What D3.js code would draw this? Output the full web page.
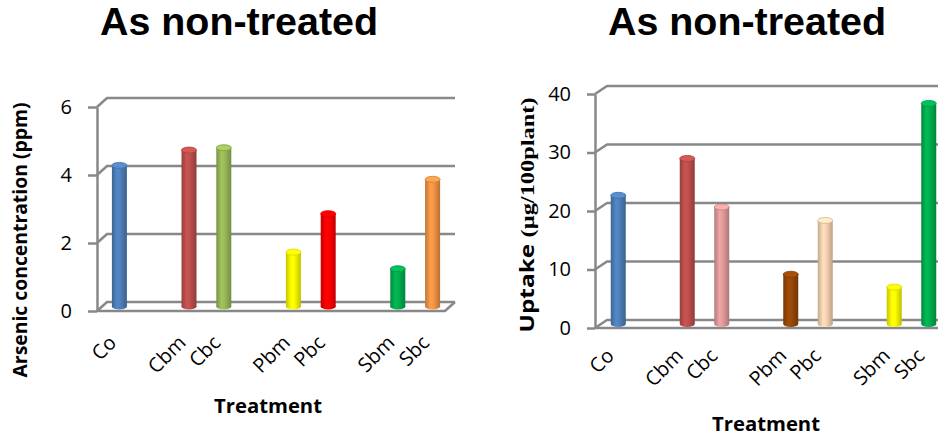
<!DOCTYPE html>
<html>
<head>
  <meta charset="utf-8">
  <style>
    body, html { margin: 0; padding: 0; background: #fff; }
    #chart { display: block; }
  </style>
</head>
<body>
  <svg id="chart" width="938" height="439"></svg>

  <script src="https://d3js.org/d3.v7.min.js"></script>
  <script>
    // treatment groups (a gap is left between groups)
    const treatmentGroups = [["Co"], ["Cbm", "Cbc"], ["Pbm", "Pbc"], ["Sbm", "Sbc"]]
    const treatments = ["Co", "Cbm", "Cbc", "Pbm", "Pbc", "Sbm", "Sbc"]

    // left: arsenic concentration (ppm)
    const arsenicValues = [4.15, 4.6, 4.67, 1.6, 2.73, 1.11, 3.74]
    const arsenicColors = ["#4f81bd", "#c0504d", "#9bbb59", "#ffff00", "#ff0000", "#00b050", "#f79646"]
    const arsenicTicks = [0, 2, 4, 6]

    // right: uptake (µg/100plant)
    const uptakeValues = [22, 28.3, 20, 8.5, 17.7, 6.3, 37.7]
    const uptakeColors = ["#4f81bd", "#c0504d", "#e39c9c", "#984807", "#fcd5b5", "#ffff00", "#00b050"]
    const uptakeTicks = [0, 10, 20, 30, 40]

    const sans = "'Open Sans', 'Liberation Sans', sans-serif"
    const serif = "'Liberation Serif', 'DejaVu Serif', serif"
    const gridColor = "#888"

    const svg = d3.select("#chart")
    const defs = svg.append("defs")

    function gradientFor(color, id) {
      const c = d3.color(color)
      const grad = defs.append("linearGradient").attr("id", id)
        .attr("x1", "0%").attr("x2", "100%").attr("y1", "0%").attr("y2", "0%")
      grad.append("stop").attr("offset", "0%").attr("stop-color", c.darker(0.7))
      grad.append("stop").attr("offset", "35%").attr("stop-color", c.brighter(0.15))
      grad.append("stop").attr("offset", "55%").attr("stop-color", c)
      grad.append("stop").attr("offset", "100%").attr("stop-color", c.darker(0.8))
      return `url(#${id})`
    }

    function drawChart(cfg) {
      const g = svg.append("g")
      const slots = []
      treatmentGroups.forEach((grp, i) => {
        if (i > 0) slots.push("gap" + i)
        slots.push(...grp)
      })

      const x = d3.scaleBand().domain(slots).range([cfg.left, cfg.right])
      const y = d3.scaleLinear().domain([0, cfg.max]).range([cfg.bottom, cfg.top])
      const [dx, dy] = cfg.depth

      // back wall gridlines + side wall diagonals
      g.append("g").selectAll("path")
        .data(cfg.ticks)
        .join("path")
        .attr("d", t => `M${cfg.left},${y(t)} L${cfg.left + dx},${y(t) + dy} L${cfg.right + dx},${y(t) + dy}`)
        .attr("fill", "none")
        .attr("stroke", gridColor)
        .attr("stroke-width", 2.5)

      // floor front edge
      g.append("path")
        .attr("d", `M${cfg.left},${y(0)} L${cfg.right},${y(0)} L${cfg.right + dx},${y(0) + dy}`)
        .attr("fill", "none")
        .attr("stroke", gridColor)
        .attr("stroke-width", 2.5)

      // y axis
      const axis = g.append("g")
        .attr("transform", `translate(${cfg.left},0)`)
        .call(d3.axisLeft(y).tickValues(cfg.ticks).tickFormat(d3.format("d"))
          .tickSize(cfg.tickSize).tickSizeOuter(0).tickPadding(cfg.tickPad))
      axis.select(".domain").attr("stroke", gridColor).attr("stroke-width", 2.5)
      axis.selectAll(".tick line").attr("stroke", gridColor).attr("stroke-width", 2.5)
      axis.selectAll(".tick text")
        .attr("font-family", sans)
        .attr("font-size", 20)
        .attr("fill", "#000")

      // cylinders
      const bw = 15
      const ry = 3
      const bars = g.append("g").selectAll("g")
        .data(treatments.map((t, i) => ({ name: t, value: cfg.values[i], color: cfg.colors[i], i })))
        .join("g")

      bars.each(function (d) {
        const sel = d3.select(this)
        const cx = x(d.name) + x.bandwidth() / 2 + dx / 2
        const yTop = y(d.value) + dy / 2
        const yBot = y(0) + dy / 2
        const fill = gradientFor(d.color, `${cfg.id}-g${d.i}`)
        sel.append("ellipse")
          .attr("cx", cx).attr("cy", yBot).attr("rx", bw / 2).attr("ry", ry)
          .attr("fill", fill)
        sel.append("rect")
          .attr("x", cx - bw / 2).attr("y", yTop)
          .attr("width", bw).attr("height", yBot - yTop)
          .attr("fill", fill)
        sel.append("ellipse")
          .attr("cx", cx).attr("cy", yTop).attr("rx", bw / 2).attr("ry", ry)
          .attr("fill", d3.color(d.color).brighter(0.3))
          .attr("stroke", d3.color(d.color).darker(0.5))
          .attr("stroke-width", 0.8)
      })

      // category labels, rotated 45 degrees
      g.append("g").selectAll("g")
        .data(treatments)
        .join("g")
        .attr("transform", t => `translate(${x(t) + x.bandwidth() / 2 + cfg.labelDx},${y(0) + cfg.labelDy})`)
        .append("text")
        .attr("transform", "rotate(-45)")
        .attr("text-anchor", "end")
        .attr("font-family", sans)
        .attr("font-size", 20)
        .text(t => t)

      // title
      g.append("text")
        .attr("x", cfg.titleX).attr("y", 35)
        .attr("text-anchor", "middle")
        .attr("font-family", "'Liberation Sans', Arial, sans-serif")
        .attr("font-weight", "bold")
        .attr("font-size", 38)
        .attr("textLength", 278)
        .attr("lengthAdjust", "spacingAndGlyphs")
        .text("As non-treated")

      // x title
      g.append("text")
        .attr("x", cfg.xTitle[0]).attr("y", cfg.xTitle[1])
        .attr("text-anchor", "middle")
        .attr("font-family", sans)
        .attr("font-weight", "bold")
        .attr("font-size", 20)
        .attr("textLength", 108)
        .attr("lengthAdjust", "spacingAndGlyphs")
        .text("Treatment")

      // y title
      const yt = g.append("text")
        .attr("transform", `translate(${cfg.yTitle[0]},${cfg.yTitle[1]}) rotate(-90)`)
        .attr("text-anchor", "middle")
        .attr("font-family", sans)
        .attr("font-weight", "bold")
        .attr("font-size", 19)
        .attr("textLength", cfg.yTitleLen)
        .attr("lengthAdjust", "spacingAndGlyphs")
      cfg.yTitleParts.forEach(p => {
        yt.append("tspan").attr("font-family", p.serif ? serif : sans).text(p.text)
      })
    }

    drawChart({
      id: "ars",
      values: arsenicValues, colors: arsenicColors, ticks: arsenicTicks, max: 6,
      left: 97, right: 445, bottom: 311, top: 107, depth: [10, -9],
      tickSize: 9, tickPad: 16, labelDx: 3, labelDy: 33,
      titleX: 239, xTitle: [268, 413], yTitle: [27, 240], yTitleLen: 275,
      yTitleParts: [{ text: "Arsenic concentration (ppm)" }]
    })

    drawChart({
      id: "upt",
      values: uptakeValues, colors: uptakeColors, ticks: uptakeTicks, max: 40,
      left: 595, right: 940, bottom: 328, top: 94, depth: [12, -8],
      tickSize: 8, tickPad: 16, labelDx: 3, labelDy: 29,
      titleX: 747, xTitle: [766, 431], yTitle: [534, 215], yTitleLen: 235,
      yTitleParts: [{ text: "Uptake " }, { text: "(µg/100plant)", serif: true }]
    })
  </script>
</body>
</html>
